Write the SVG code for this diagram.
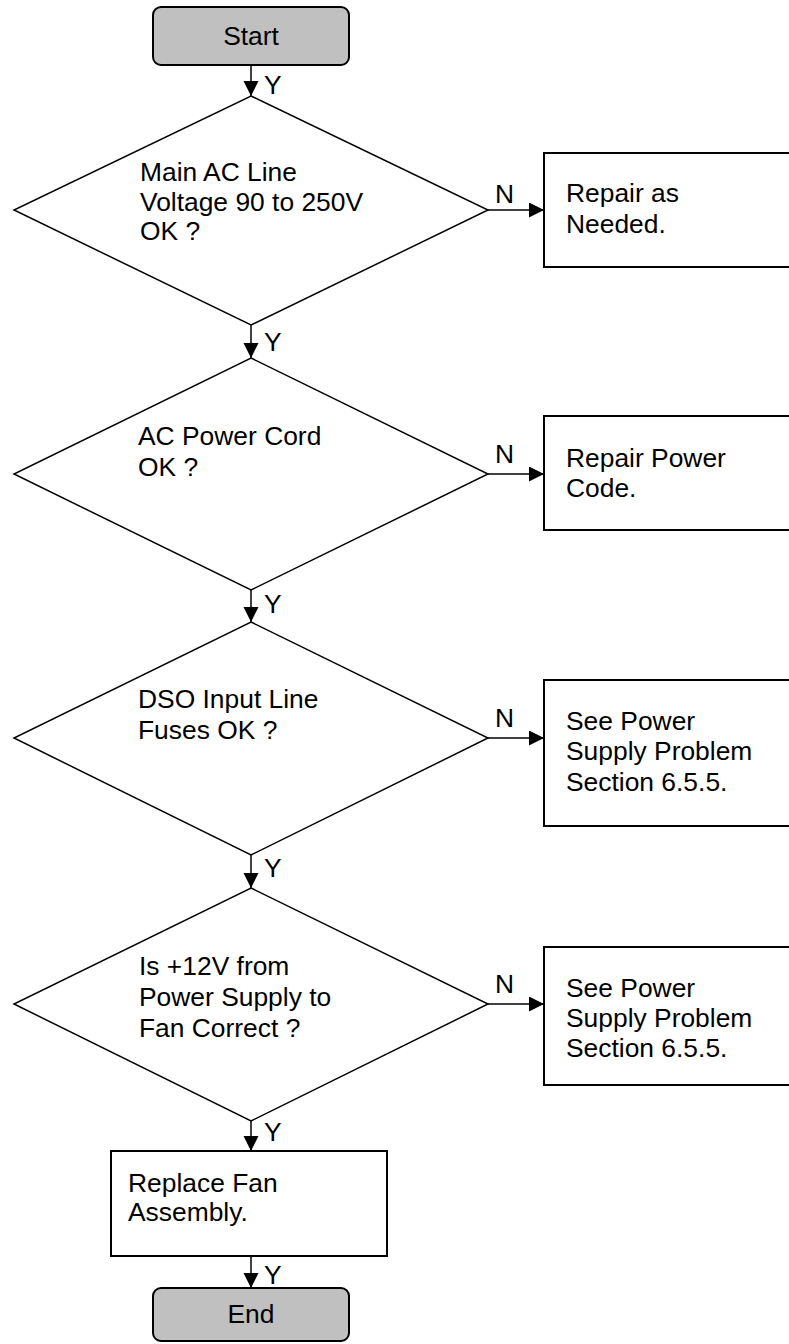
<svg xmlns="http://www.w3.org/2000/svg" width="789" height="1344" viewBox="0 0 789 1344">
<style>
text{font-family:"Liberation Sans",Arial,sans-serif;font-size:26.4px;fill:#000}
.term{fill:#c0c0c0;stroke:#000;stroke-width:2}
.box{fill:#fff;stroke:#000;stroke-width:2}
.dia{fill:#fff;stroke:#000;stroke-width:1.5}
.ln{stroke:#000;stroke-width:1.5;fill:none;marker-end:url(#ah)}
.c{text-anchor:middle}
</style>
<defs>
<marker id="ah" markerUnits="userSpaceOnUse" markerWidth="16" markerHeight="16" refX="15" refY="7.5" orient="auto">
<path d="M0,0 L15,7.5 L0,15 Z" fill="#000"/>
</marker>
</defs>
<g id="start"><rect class="term" x="153" y="7" width="196" height="58" rx="8"/><text class="c" x="251" y="45">Start</text></g>
<g id="d1"><polygon class="dia" points="251,96 488,210 251,325 14,210"/>
<text x="140" y="181">Main AC Line</text><text x="140" y="211">Voltage 90 to 250V</text><text x="140" y="240">OK ?</text></g>
<g id="b1"><rect class="box" x="544" y="153" width="260" height="114"/><text x="566" y="202">Repair as</text><text x="566" y="233">Needed.</text></g>
<g id="d2"><polygon class="dia" points="251,358 488,474 251,590 14,474"/>
<text x="138" y="445">AC Power Cord</text><text x="138" y="476">OK ?</text></g>
<g id="b2"><rect class="box" x="544" y="416" width="260" height="114"/><text x="566" y="467">Repair Power</text><text x="566" y="497">Code.</text></g>
<g id="d3"><polygon class="dia" points="251,622 488,738 251,855 14,738"/>
<text x="138" y="708">DSO Input Line</text><text x="138" y="739">Fuses OK ?</text></g>
<g id="b3"><rect class="box" x="544" y="680" width="260" height="146"/><text x="566" y="730">See Power</text><text x="566" y="760">Supply Problem</text><text x="566" y="791">Section 6.5.5.</text></g>
<g id="d4"><polygon class="dia" points="251,888 488,1004 251,1121 14,1004"/>
<text x="139" y="975">Is +12V from</text><text x="139" y="1006">Power Supply to</text><text x="139" y="1037">Fan Correct ?</text></g>
<g id="b4"><rect class="box" x="544" y="947" width="260" height="138"/><text x="566" y="997">See Power</text><text x="566" y="1027">Supply Problem</text><text x="566" y="1057">Section 6.5.5.</text></g>
<g id="b5"><rect class="box" x="111" y="1151" width="276" height="105"/><text x="128" y="1192">Replace Fan</text><text x="128" y="1221">Assembly.</text></g>
<g id="end"><rect class="term" x="153" y="1288" width="196" height="53" rx="8"/><text class="c" x="251" y="1323">End</text></g>
<g id="connectors">
<line class="ln" x1="251" y1="65" x2="251" y2="96"/>
<line class="ln" x1="251" y1="325" x2="251" y2="358"/>
<line class="ln" x1="251" y1="590" x2="251" y2="622"/>
<line class="ln" x1="251" y1="855" x2="251" y2="888"/>
<line class="ln" x1="251" y1="1121" x2="251" y2="1151"/>
<line class="ln" x1="251" y1="1256" x2="251" y2="1288"/>
<line class="ln" x1="488" y1="210" x2="544" y2="210"/>
<line class="ln" x1="488" y1="474" x2="544" y2="474"/>
<line class="ln" x1="488" y1="738" x2="544" y2="738"/>
<line class="ln" x1="488" y1="1004" x2="544" y2="1004"/>
<text x="264" y="94">Y</text><text x="264" y="351">Y</text><text x="264" y="613">Y</text><text x="264" y="877">Y</text><text x="264" y="1141">Y</text><text x="264" y="1284">Y</text>
<text x="495" y="203">N</text><text x="495" y="463">N</text><text x="495" y="727">N</text><text x="495" y="993">N</text>
</g>
</svg>
